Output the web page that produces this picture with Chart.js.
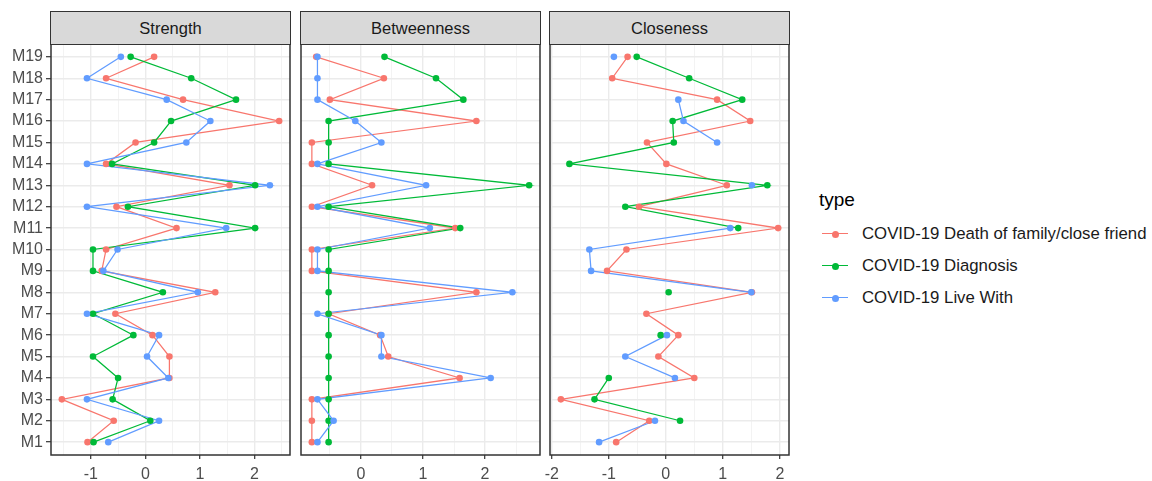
<!DOCTYPE html>
<html>
<head>
<meta charset="utf-8">
<script src="https://cdn.jsdelivr.net/npm/chart.js@4.4.0/dist/chart.umd.min.js"></script>
<style>
  html, body { margin: 0; padding: 0; background: #ffffff; width: 1152px; height: 481px; overflow: hidden;
               font-family: "Liberation Sans", Arial, sans-serif; }
  canvas { position: absolute; }
  .strip { position: absolute; box-sizing: border-box; background: #D9D9D9; border: 1.5px solid #333333;
           color: #1A1A1A; font-size: 16.5px; text-align: center; display: flex; align-items: center; justify-content: center; }
  .legend-title { position: absolute; font-size: 19px; color: #000; line-height: 20px; }
  .legend-item { position: absolute; height: 20px; }
  .legend-item .key-line { position: absolute; left: 0; top: 9px; width: 26px; height: 1.3px; }
  .legend-item .key-dot { position: absolute; left: 9.5px; top: 6.5px; width: 7px; height: 7px; border-radius: 50%; }
  .legend-item .key-text { position: absolute; left: 40px; top: 0; white-space: nowrap; font-size: 16.8px; line-height: 20px; color: #1A1A1A; }
</style>
</head>
<body>
<script>
// Items on the vertical axis (bottom to top)
const categories = ['M1','M2','M3','M4','M5','M6','M7','M8','M9','M10',
                    'M11','M12','M13','M14','M15','M16','M17','M18','M19'];

// Legend entries and their colours
const seriesNames = ['COVID-19 Death of family/close friend', 'COVID-19 Diagnosis', 'COVID-19 Live With'];
const seriesColors = ['#F8766D', '#00BA38', '#619CFF'];

// Facet titles
const facetTitles = ['Strength', 'Betweenness', 'Closeness'];

// Strength (standardised), M1..M19
const strengthDeath     = [-1.06, -0.58, -1.53, 0.44, 0.44, 0.13, -0.55, 1.28, -0.80, -0.72, 0.57, -0.53, 1.54, -0.72, -0.18, 2.45, 0.69, -0.72, 0.16];
const strengthDiagnosis = [-0.95, 0.09, -0.60, -0.50, -0.96, -0.22, -0.96, 0.32, -0.96, -0.96, 2.01, -0.32, 2.01, -0.61, 0.16, 0.47, 1.66, 0.84, -0.27];
const strengthLiveWith  = [-0.68, 0.25, -1.07, 0.42, 0.03, 0.25, -1.07, 0.96, -0.77, -0.51, 1.48, -1.07, 2.28, -1.07, 0.75, 1.19, 0.39, -1.07, -0.45];

// Betweenness (standardised), M1..M19
const betweennessDeath     = [-0.79, -0.79, -0.79, 1.59, 0.44, 0.31, -0.52, 1.86, -0.79, -0.79, 1.52, -0.79, 0.18, -0.79, -0.79, 1.86, -0.50, 0.37, -0.72];
const betweennessDiagnosis = [-0.52, -0.52, -0.52, -0.52, -0.52, -0.52, -0.52, -0.52, -0.52, -0.52, 1.60, -0.52, 2.71, -0.52, -0.52, -0.52, 1.65, 1.21, 0.38];
const betweennessLiveWith  = [-0.70, -0.44, -0.70, 2.09, 0.33, 0.33, -0.70, 2.44, -0.70, -0.70, 1.11, -0.70, 1.05, -0.70, 0.33, -0.09, -0.70, -0.70, -0.70];

// Closeness (standardised), M1..M19; null = not available
const closenessDeath     = [-0.87, -0.29, -1.84, 0.50, -0.13, 0.22, -0.34, 1.51, -1.03, -0.69, 1.97, -0.47, 1.07, 0.01, -0.33, 1.48, 0.90, -0.94, -0.67];
const closenessDiagnosis = [null, 0.25, -1.25, -1.00, null, -0.09, null, 0.05, null, null, 1.27, -0.71, 1.78, -1.69, 0.14, 0.12, 1.34, 0.41, -0.51];
const closenessLiveWith  = [-1.17, -0.19, null, 0.16, -0.71, 0.02, null, 1.50, -1.31, -1.34, 1.13, null, 1.51, null, 0.90, 0.31, 0.22, null, -0.91];

const facetSeries = [
  [strengthDeath, strengthDiagnosis, strengthLiveWith],
  [betweennessDeath, betweennessDiagnosis, betweennessLiveWith],
  [closenessDeath, closenessDiagnosis, closenessLiveWith]
];

// Panel geometry (page pixels)
const panelLefts = [51, 301, 550];
const panelWidth = 239;
const panelTop = 44;
const panelHeight = 411;
const canvasTop = 28;
const canvasHeight = 481 - canvasTop;
const yAxisWidth = 51;
const sidePad = 15;

const axisFont = { family: "'Liberation Sans', Arial, sans-serif", size: 16 };

// Dark frame around each panel, drawn above the data
const panelFrame = {
  id: 'panelFrame',
  afterDatasetsDraw(chart) {
    const { ctx, chartArea: a } = chart;
    ctx.save();
    ctx.strokeStyle = '#333333';
    ctx.lineWidth = 1.5;
    ctx.strokeRect(a.left, a.top, a.right - a.left, a.bottom - a.top);
    ctx.restore();
  }
};

function isMajor(ctx) {
  return !!(ctx && ctx.tick && Number.isInteger(ctx.tick.value));
}

function clearScalePadding(sc) {
  sc.paddingTop = 0; sc.paddingBottom = 0; sc.paddingLeft = 0; sc.paddingRight = 0;
}

function buildPanel(index) {
  const showY = index === 0;
  const seriesList = facetSeries[index];
  const all = seriesList.flat().filter(v => v !== null);
  const lo = Math.min(...all), hi = Math.max(...all);
  const pad = (hi - lo) * 0.05;
  const xMin = lo - pad, xMax = hi + pad;

  const padLeft = showY ? 0 : sidePad;
  const leftW = showY ? yAxisWidth : 0;
  const canvas = document.createElement('canvas');
  const cw = padLeft + leftW + panelWidth + sidePad;
  canvas.width = cw;
  canvas.height = canvasHeight;
  canvas.style.left = (panelLefts[index] - leftW - padLeft) + 'px';
  canvas.style.top = canvasTop + 'px';
  canvas.style.width = cw + 'px';
  canvas.style.height = canvasHeight + 'px';
  document.body.appendChild(canvas);

  const datasets = [];
  seriesList.forEach((vals, s) => {
    const pts = categories.map((c, i) => ({ x: vals[i], y: i + 1 }));
    // connecting path
    datasets.push({
      label: seriesNames[s] + ' path',
      data: pts,
      borderColor: seriesColors[s],
      borderWidth: 1.25,
      pointRadius: 0,
      pointHoverRadius: 0,
      tension: 0,
      spanGaps: false,
      order: 6 - s
    });
    // markers
    datasets.push({
      label: seriesNames[s],
      data: pts,
      showLine: false,
      pointRadius: 3.3,
      pointHoverRadius: 3.3,
      pointBorderWidth: 0,
      pointBackgroundColor: seriesColors[s],
      backgroundColor: seriesColors[s],
      borderColor: seriesColors[s],
      order: 3 - s
    });
  });

  new Chart(canvas, {
    type: 'line',
    data: { datasets },
    plugins: [panelFrame],
    options: {
      responsive: false,
      animation: false,
      devicePixelRatio: 1,
      layout: { padding: { top: panelTop - canvasTop, right: sidePad, bottom: 0, left: padLeft } },
      plugins: { legend: { display: false }, tooltip: { enabled: false } },
      events: [],
      scales: {
        x: {
          type: 'linear',
          min: xMin,
          max: xMax,
          afterBuildTicks: sc => {
            const t = [];
            for (let v = Math.ceil(xMin * 2) / 2; v <= xMax + 1e-9; v += 0.5) t.push({ value: Math.round(v * 2) / 2 });
            sc.ticks = t;
          },
          afterFit: sc => {
            sc.height = canvasHeight - panelHeight - (panelTop - canvasTop);
            clearScalePadding(sc);
          },
          ticks: {
            autoSkip: false, maxRotation: 0, minRotation: 0, padding: 6,
            color: '#4D4D4D', font: axisFont,
            callback: v => Number.isInteger(v) ? String(v) : ''
          },
          grid: {
            color: c => isMajor(c) ? '#EBEBEB' : '#F2F2F2',
            lineWidth: c => isMajor(c) ? 1.4 : 0.9,
            tickColor: c => isMajor(c) ? '#333333' : 'rgba(0,0,0,0)',
            tickLength: 4,
            tickWidth: 1.2
          },
          border: { display: false }
        },
        y: {
          type: 'linear',
          min: 0.4,
          max: categories.length + 0.6,
          afterBuildTicks: sc => { sc.ticks = categories.map((c, i) => ({ value: i + 1 })); },
          afterFit: sc => {
            sc.width = leftW;
            clearScalePadding(sc);
          },
          ticks: {
            display: showY, autoSkip: false, padding: 3,
            color: '#4D4D4D', font: axisFont,
            callback: v => categories[v - 1]
          },
          grid: {
            color: '#EBEBEB', lineWidth: 1.4,
            drawTicks: showY, tickLength: 5, tickColor: '#333333', tickWidth: 1.2
          },
          border: { display: false }
        }
      }
    }
  });

  // facet strip
  const strip = document.createElement('div');
  strip.className = 'strip';
  strip.style.left = (panelLefts[index] - 0.75) + 'px';
  strip.style.top = '11.25px';
  strip.style.width = (panelWidth + 1.5) + 'px';
  strip.style.height = (panelTop - 11.25 + 0.75) + 'px';
  strip.textContent = facetTitles[index];
  document.body.appendChild(strip);
}

facetTitles.forEach((t, i) => buildPanel(i));

// Legend
const legendTitle = document.createElement('div');
legendTitle.className = 'legend-title';
legendTitle.style.left = '819px';
legendTitle.style.top = '190px';
legendTitle.textContent = 'type';
document.body.appendChild(legendTitle);

const legendRowTops = [224, 256, 288];
seriesNames.forEach((name, s) => {
  const item = document.createElement('div');
  item.className = 'legend-item';
  item.style.left = '822px';
  item.style.top = legendRowTops[s] + 'px';
  const line = document.createElement('div');
  line.className = 'key-line';
  line.style.background = seriesColors[s];
  const dot = document.createElement('div');
  dot.className = 'key-dot';
  dot.style.background = seriesColors[s];
  const text = document.createElement('div');
  text.className = 'key-text';
  text.textContent = name;
  item.appendChild(line);
  item.appendChild(dot);
  item.appendChild(text);
  document.body.appendChild(item);
});
</script>
</body>
</html>
